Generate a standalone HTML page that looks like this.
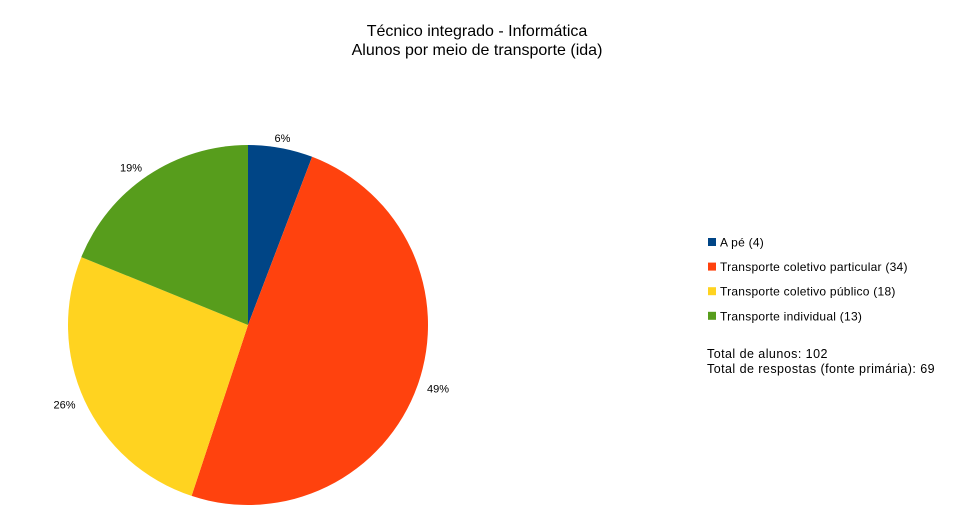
<!DOCTYPE html>
<html><head><meta charset="utf-8"><style>
body{margin:0;background:#fff;font-family:"Liberation Sans",sans-serif;}
svg text{font-family:"Liberation Sans",sans-serif;}
</style></head><body>
<svg id="chart" width="954" height="524">
<text x="477" y="36" font-size="16" text-anchor="middle">Técnico integrado - Informática</text>
<text x="477" y="55" font-size="16" text-anchor="middle">Alunos por meio de transporte (ida)</text>
<g id="slices"></g>
<g id="legend"></g>
<text x="707" y="358" font-size="12.5" letter-spacing="0.45">Total de alunos: 102</text>
<text x="707" y="373" font-size="12.5" letter-spacing="0.45">Total de respostas (fonte primária): 69</text>
</svg>
<script>
const categories=["A pé","Transporte coletivo particular","Transporte coletivo público","Transporte individual"];
const values=[4,34,18,13];
const pctLabels=["6%","49%","26%","19%"];
const colors=["#004586","#ff420e","#ffd320","#579d1c"];
const NS="http://www.w3.org/2000/svg";
const cx=248,cy=325,r=180;
const total=values.reduce((a,b)=>a+b,0);
const g=document.getElementById('slices');
let a0=0;
values.forEach((v,i)=>{
  const a1=a0+v/total*2*Math.PI;
  const p=(a)=>[cx+r*Math.sin(a),cy-r*Math.cos(a)];
  const [x0,y0]=p(a0),[x1,y1]=p(a1);
  const path=document.createElementNS(NS,'path');
  path.setAttribute('d',`M${cx},${cy}L${x0},${y0}A${r},${r} 0 ${a1-a0>Math.PI?1:0} 1 ${x1},${y1}Z`);
  path.setAttribute('fill',colors[i]);
  
  
  g.appendChild(path);
  const am=(a0+a1)/2, lr=r+10;
  const t=document.createElementNS(NS,'text');
  t.setAttribute('x',cx+lr*Math.sin(am));
  t.setAttribute('y',cy-lr*Math.cos(am)+4);
  t.setAttribute('font-size','11');
  t.setAttribute('text-anchor',Math.sin(am)>0.2?'start':(Math.sin(am)<-0.2?'end':'middle'));
  t.textContent=pctLabels[i];
  
  
  g.appendChild(t);
  a0=a1;
});
const lg=document.getElementById('legend');
categories.forEach((c,i)=>{
  const y=242+i*24.6;
  const s=document.createElementNS(NS,'rect');
  s.setAttribute('x',708);s.setAttribute('y',y-4);s.setAttribute('width',8);s.setAttribute('height',8);
  s.setAttribute('fill',colors[i]);
  
  
  lg.appendChild(s);
  const t=document.createElementNS(NS,'text');
  t.setAttribute('x',720);t.setAttribute('y',y+4.5);t.setAttribute('font-size','12');
  t.setAttribute('letter-spacing','0.25');
  t.textContent=c+' ('+values[i]+')';
  
  
  lg.appendChild(t);
});
</script>
</body></html>
